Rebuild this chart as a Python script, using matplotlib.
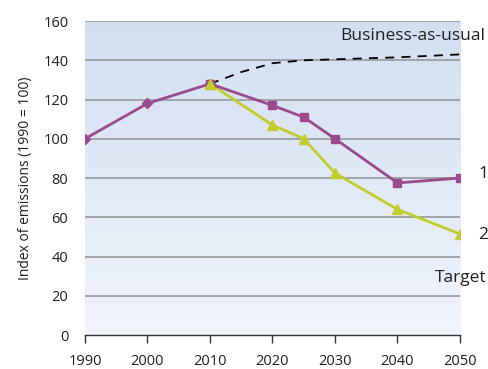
import matplotlib
matplotlib.use('Agg')
import matplotlib.pyplot as plt
import numpy as np

# Emission index paths (1990 = 100)
years_hist = [1990, 2000, 2010]
index_hist = [100, 118, 128]

years_1 = [2010, 2020, 2025, 2030, 2040, 2050]
index_1 = [128, 117, 111, 100, 77.5, 80]

years_2 = [2010, 2020, 2025, 2030, 2040, 2050]
index_2 = [128, 107, 100, 82.5, 64, 51.5]

years_bau = [2010, 2015, 2020, 2025, 2030, 2040, 2050]
index_bau = [128, 134, 138.5, 140, 140.5, 141.5, 143]

x_ticks = [1990, 2000, 2010, 2020, 2030, 2040, 2050]
y_ticks = [0, 20, 40, 60, 80, 100, 120, 140, 160]

purple = '#9a4a8d'
lime = '#c2cc2c'
ink = '#231f20'

plt.rcParams['font.family'] = ['Open Sans', 'DejaVu Sans']

fig = plt.figure(figsize=(4.89, 3.69), dpi=100)
ax = fig.add_axes([0.1738, 0.0921, 0.9407 - 0.1738, 0.943 - 0.0921])

# vertical background gradient, pale at the bottom
grad = np.linspace(0, 1, 256).reshape(-1, 1, 1)
top = np.array([0.824, 0.875, 0.945])
bottom = np.array([0.941, 0.957, 0.984])
img = bottom + (top - bottom) * grad
ax.imshow(img, extent=[0, 1, 0, 1], transform=ax.transAxes, origin='lower',
          aspect='auto', zorder=0)

ax.set_xlim(1990, 2050)
ax.set_ylim(0, 160)

for y in y_ticks[1:]:
    ax.axhline(y, color='#9e9ea2', lw=1.3, zorder=1)

ax.plot(years_bau, index_bau, color='black', lw=1.3, ls=(0, (5, 4)), zorder=2)
ax.plot(years_2, index_2, color=lime, lw=2.0, marker='^', ms=7,
        solid_joinstyle='round', zorder=3)
ax.plot(years_1, index_1, color=purple, lw=2.0, marker='s', ms=6,
        solid_joinstyle='round', zorder=3)
ax.plot(years_hist, index_hist, color=purple, lw=2.0, marker='D', ms=5,
        solid_joinstyle='round', zorder=3)
ax.plot([years_2[0]], [index_2[0]], color=lime, marker='^', ms=7, zorder=4)

for s in ['top', 'right', 'left']:
    ax.spines[s].set_visible(False)
ax.spines['bottom'].set_color('#333333')
ax.spines['bottom'].set_linewidth(1.0)
ax.spines['bottom'].set_zorder(5)

ax.set_xticks(x_ticks)
ax.set_yticks(y_ticks)
ax.tick_params(axis='x', direction='out', length=6, width=1, color='#333333',
               labelsize=10.5, pad=8, labelcolor=ink)
ax.tick_params(axis='y', length=0, labelsize=10.5, pad=12, labelcolor=ink)

ax.set_ylabel('Index of emissions (1990 = 100)', fontsize=10, color=ink,
              labelpad=7)

ax.text(2054, 152.4, 'Business-as-usual', ha='right', va='center',
        fontsize=12.5, color=ink, clip_on=False)
ax.text(2052.9, 82, '1', ha='left', va='center', fontsize=12.5,
        color=ink, clip_on=False)
ax.text(2052.9, 51, '2', ha='left', va='center', fontsize=12.5,
        color=ink, clip_on=False)
ax.text(2054.3, 29, 'Target', ha='right', va='center', fontsize=12.5,
        color=ink, clip_on=False)

fig.savefig('out.png', dpi=100)
